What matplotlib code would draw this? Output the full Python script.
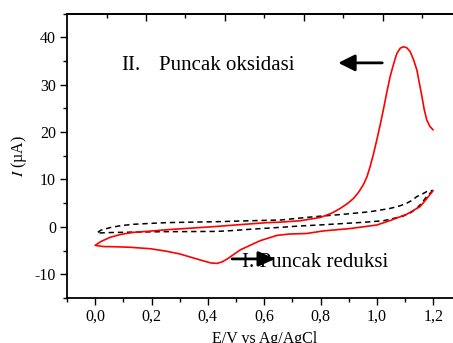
import numpy as np
import matplotlib.pyplot as plt
from matplotlib.ticker import MultipleLocator, FixedLocator, NullFormatter

# red CV: reverse sweep from 1.2 V back to 0, then forward sweep to 1.2 V
sample_E = [1.199, 1.183, 1.154, 1.107, 1.05, 1.0, 0.905, 0.81, 0.75, 0.69, 0.645,
            0.586, 0.515, 0.468, 0.45, 0.432, 0.41, 0.38, 0.34, 0.30, 0.25, 0.195,
            0.124, 0.077, 0.03, 0.0,
            0.02, 0.053, 0.09, 0.136, 0.183, 0.254, 0.33, 0.42, 0.52, 0.61, 0.657,
            0.728, 0.80, 0.84, 0.87, 0.895, 0.917, 0.935, 0.952, 0.965, 0.976,
            0.988, 1.0, 1.012, 1.023, 1.035, 1.047, 1.06, 1.071, 1.083, 1.094,
            1.106, 1.118, 1.13, 1.142, 1.151, 1.16, 1.168, 1.177, 1.188, 1.199]
sample_I = [7.6, 6.4, 4.3, 2.7, 1.4, 0.4, -0.35, -0.85, -1.4, -1.5, -1.8,
            -2.9, -4.85, -6.8, -7.4, -7.7, -7.6, -7.1, -6.4, -5.7, -5.1, -4.6,
            -4.3, -4.2, -4.15, -3.9,
            -3.1, -2.2, -1.6, -1.15, -0.95, -0.6, -0.3, 0.05, 0.5, 0.9, 1.0,
            1.3, 2.0, 2.9, 3.9, 4.9, 6.0, 7.3, 8.9, 10.6, 12.7,
            15.4, 18.4, 21.6, 24.7, 28.3, 31.7, 34.5, 36.6, 37.7, 38.0,
            37.8, 37.0, 35.3, 33.1, 30.3, 27.5, 24.8, 22.6, 21.2, 20.5]

# black dashed CV (blank)
blank_E = [1.199, 1.177, 1.16, 1.142, 1.12, 1.094, 1.06, 1.023, 0.96, 0.905, 0.81,
           0.728, 0.657, 0.55, 0.48, 0.432, 0.30, 0.254, 0.136, 0.05, 0.006,
           0.02, 0.053, 0.09, 0.136, 0.2, 0.254, 0.30, 0.432, 0.55, 0.657, 0.787,
           0.87, 0.976, 1.047, 1.08, 1.106, 1.125, 1.142, 1.16, 1.177, 1.199]
blank_I = [7.7, 6.4, 5.1, 3.9, 3.0, 2.3, 1.8, 1.3, 1.0, 0.8, 0.45,
           0.2, -0.1, -0.5, -0.8, -0.95, -1.0, -1.0, -1.1, -1.2, -1.3,
           -0.7, -0.15, 0.25, 0.55, 0.75, 0.9, 0.95, 1.1, 1.3, 1.45, 2.2,
           2.6, 3.2, 3.9, 4.4, 5.0, 5.6, 6.4, 6.9, 7.45, 7.7]

x_ticks = [0.0, 0.2, 0.4, 0.6, 0.8, 1.0, 1.2]
x_labels = ['0,0', '0,2', '0,4', '0,6', '0,8', '1,0', '1,2']
y_ticks = [-10, 0, 10, 20, 30, 40]

plt.rcParams['font.family'] = ['Liberation Serif', 'DejaVu Serif']
plt.rcParams['mathtext.fontset'] = 'stix'
plt.rcParams['axes.unicode_minus'] = False

fig = plt.figure(figsize=(4.53, 3.43), dpi=100)
ax = fig.add_axes([0.1479, 0.1312, 0.8706, 0.8292])

ax.plot(blank_E, blank_I, color='black', lw=1.1, ls=(0, (3.5, 2.5)))
ax.plot(sample_E, sample_I, color='#ff0000', lw=1.2)

ax.set_xlim(-0.1, 1.3)
ax.set_ylim(-15, 45)

ax.set_xticks(x_ticks)
ax.set_xticklabels(x_labels)
ax.xaxis.set_minor_locator(MultipleLocator(0.1))
ax.set_yticks(y_ticks)
ax.yaxis.set_minor_locator(MultipleLocator(5))
ax.tick_params(which='major', direction='out', length=5, width=1.0, labelsize=11.5, pad=3)
ax.tick_params(which='minor', direction='out', length=3, width=1.0)
ax.tick_params(top=False, right=False)

# top axis with its own (offset) inward ticks
top = ax.secondary_xaxis('top')
top.xaxis.set_major_locator(FixedLocator([0.181, 0.461, 0.742, 1.022, 1.30]))
top.xaxis.set_minor_locator(FixedLocator([0.043, 0.319, 0.60, 0.88, 1.161]))
top.xaxis.set_major_formatter(NullFormatter())
top.tick_params(which='major', direction='in', length=5, width=1.0)
top.tick_params(which='minor', direction='in', length=3, width=1.0)

for s in ax.spines.values():
    s.set_linewidth(1.3)
top.spines['top'].set_linewidth(1.3)
ax.spines['right'].set_visible(False)

ax.set_xlabel('E/V vs Ag/AgCl', fontsize=11.5, labelpad=4)
ax.set_ylabel(r'$I$ (µA)', fontsize=11.5, labelpad=4)

# annotations
ax.text(0.092, 33.1, 'II.', fontsize=15, va='baseline')
ax.text(0.227, 33.1, 'Puncak oksidasi', fontsize=15, va='baseline')
ax.annotate('', xy=(0.863, 34.6), xytext=(1.019, 34.6),
            arrowprops=dict(arrowstyle='-|>,head_length=1.0,head_width=0.5',
                            mutation_scale=10, lw=2, color='black',
                            shrinkA=0, shrinkB=0))
ax.text(0.521, -8.5, 'I. Puncak reduksi', fontsize=15, va='baseline')
ax.annotate('', xy=(0.639, -6.75), xytext=(0.486, -6.75),
            arrowprops=dict(arrowstyle='-|>,head_length=1.0,head_width=0.45',
                            mutation_scale=10, lw=2, color='black',
                            shrinkA=0, shrinkB=0), zorder=5)

fig.savefig('out.png', dpi=100)
